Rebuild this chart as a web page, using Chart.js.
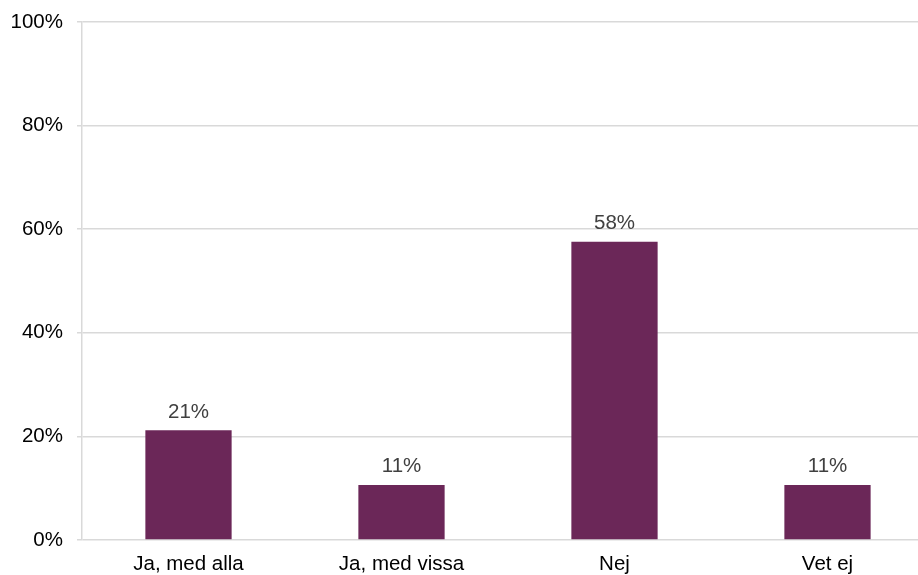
<!DOCTYPE html>
<html>
<head>
<meta charset="utf-8">
<script src="https://cdn.jsdelivr.net/npm/chart.js@4/dist/chart.umd.min.js"></script>
<style>
  html, body { margin: 0; padding: 0; background: #fff; overflow: hidden; }
  #wrap { width: 934px; height: 575px; }
</style>
</head>
<body>
<div id="wrap"><canvas id="chart"></canvas></div>
<script>
const categories = ['Ja, med alla', 'Ja, med vissa', 'Nej', 'Vet ej'];
const shares = [21.2, 10.6, 57.6, 10.6];
const yTicks = [0, 20, 40, 60, 80, 100];

const barColor = '#6b2758';
const fontFamily = '"Liberation Sans", Arial, sans-serif';

// draws the percent text above each bar
const valueLabels = {
    id: 'valueLabels',
    afterDatasetsDraw(chart) {
        const ctx = chart.ctx;
        const meta = chart.getDatasetMeta(0);
        ctx.save();
        ctx.font = '20.5px ' + fontFamily;
        ctx.fillStyle = '#404040';
        ctx.textAlign = 'center';
        ctx.textBaseline = 'bottom';
        meta.data.forEach((bar, i) => {
            ctx.fillText(Math.round(shares[i]) + '%', bar.x, bar.y - 8);
        });
        ctx.restore();
    }
};

new Chart(document.getElementById('chart'), {
    type: 'bar',
    data: {
        labels: categories,
        datasets: [{
            data: shares,
            backgroundColor: barColor,
            borderWidth: 0,
            barPercentage: 0.405,
            categoryPercentage: 1
        }]
    },
    options: {
        responsive: true,
        maintainAspectRatio: false,
        animation: false,
        layout: { padding: { top: 22, left: 0, right: 0, bottom: 0 } },
        plugins: {
            legend: { display: false },
            tooltip: { enabled: false }
        },
        scales: {
            x: {
                afterFit(axis) { axis.height = 35; },
                grid: { display: false, drawTicks: false },
                border: { display: false },
                ticks: {
                    color: '#000',
                    padding: 12,
                    font: { family: fontFamily, size: 20.5 }
                }
            },
            y: {
                min: 0,
                max: 100,
                afterBuildTicks(axis) {
                    axis.ticks = yTicks.map(v => ({ value: v }));
                },
                afterFit(axis) {
                    axis.width = 82;
                    axis.paddingTop = 0;
                    axis.paddingBottom = 0;
                },
                grid: {
                    color: '#d9d9d9',
                    lineWidth: 1.5,
                    drawTicks: true,
                    tickLength: 5
                },
                border: { display: true, color: '#d9d9d9', width: 1.5 },
                ticks: {
                    color: '#000',
                    padding: 14,
                    font: { family: fontFamily, size: 20.5 },
                    callback: v => v + '%'
                }
            }
        }
    },
    plugins: [valueLabels]
});
</script>
</body>
</html>
